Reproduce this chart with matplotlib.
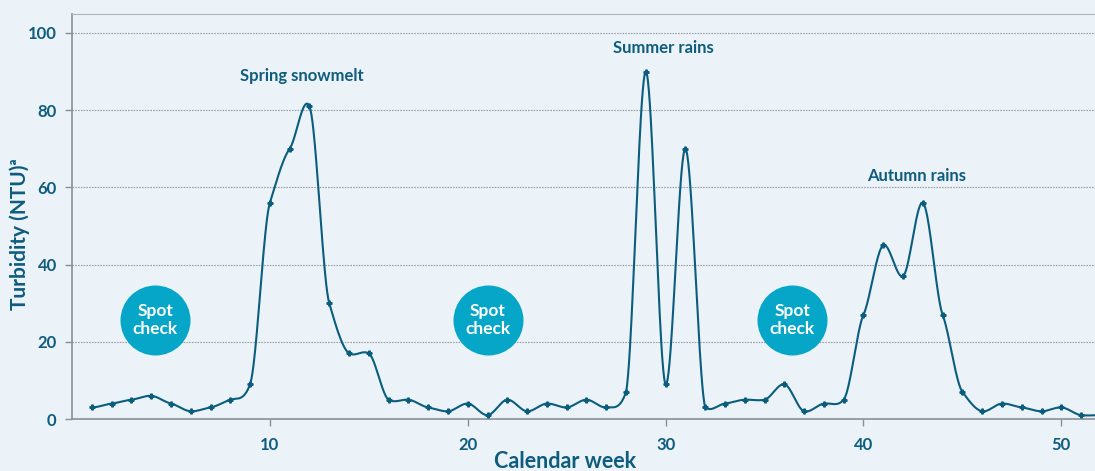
import numpy as np
import matplotlib
matplotlib.use("Agg")
import matplotlib.pyplot as plt

weeks = list(range(1, 53))
turbidity = [3, 4, 5, 6, 4, 2, 3, 5, 9, 56,
             70, 81, 30, 17, 17, 5, 5, 3, 2, 4,
             1, 5, 2, 4, 3, 5, 3, 7, 90, 9,
             70, 3, 4, 5, 5, 9, 2, 4, 5, 27,
             45, 37, 56, 27, 7, 2, 4, 3, 2, 3,
             1, 1]
season_labels = ["Spring snowmelt", "Summer rains", "Autumn rains"]
season_x = [11.6, 29.9, 42.7]
season_y = [88.9, 96.1, 63.0]
spot_x = [4.2, 21.0, 36.4]
spot_y = [25.6, 25.6, 25.6]
y_ticks = [0, 20, 40, 60, 80, 100]
x_ticks = [10, 20, 30, 40, 50]

LINE = "#0b5d7e"
TEXT = "#0e5c7e"
CIRCLE = "#05a6c7"
BG = "#ecf3f8"

plt.rcParams['font.family'] = ['Lato', 'DejaVu Sans']


def smooth_curve(x, y, k=0.55, c=3.0, n=40):
    x = np.asarray(x, float)
    y = np.asarray(y, float)
    N = len(x)
    m = np.zeros(N)
    for i in range(N):
        if 0 < i < N - 1:
            m[i] = k * (y[i + 1] - y[i - 1]) / 2
    xs, ys = [], []
    for i in range(N - 1):
        d = y[i + 1] - y[i]
        out = []
        for mm in (m[i], m[i + 1]):
            if d == 0 or np.sign(mm) != np.sign(d):
                lim = abs(d) + c
            else:
                lim = 3 * abs(d) + c
            out.append(np.clip(mm, -lim, lim))
        m0, m1 = out
        t = np.linspace(0, 1, n, endpoint=False)
        h00 = 2 * t**3 - 3 * t**2 + 1
        h10 = t**3 - 2 * t**2 + t
        h01 = -2 * t**3 + 3 * t**2
        h11 = t**3 - t**2
        xs.append(x[i] + t * (x[i + 1] - x[i]))
        ys.append(h00 * y[i] + h10 * m0 + h01 * y[i + 1] + h11 * m1)
    xs.append([x[-1]])
    ys.append([y[-1]])
    return np.concatenate(xs), np.concatenate(ys)


fig = plt.figure(figsize=(10.95, 4.71), dpi=100)
fig.patch.set_facecolor(BG)
ax = fig.add_axes([72 / 1095, 1 - 419 / 471, 1 - 72 / 1095, (419 - 14) / 471])
ax.set_facecolor(BG)

ax.set_xlim(0, 51.7)
ax.set_ylim(0, 104.9)

for yv in y_ticks[1:]:
    ax.axhline(yv, color="#9aa0a4", lw=0.8, ls=(0, (1.5, 1)), zorder=1)

sx, sy = smooth_curve(weeks, turbidity)
ax.plot(sx, sy, color=LINE, lw=1.5, zorder=3)
ax.plot(weeks, turbidity, ls="none", marker="P", ms=3.5, color=LINE, zorder=4)

ax.scatter(spot_x, spot_y, s=2540, color=CIRCLE, zorder=5, linewidths=0)
for xv, yv in zip(spot_x, spot_y):
    ax.text(xv, yv, "Spot\ncheck", ha="center", va="center", color="white",
            fontsize=12.5, fontweight="bold", linespacing=1.12, zorder=6)

for lab, xv, yv in zip(season_labels, season_x, season_y):
    ax.text(xv, yv, lab, ha="center", va="center", color=TEXT,
            fontsize=12, fontweight="bold", zorder=6)

ax.set_yticks(y_ticks)
ax.set_xticks(x_ticks)
ax.tick_params(axis="both", colors="#8a9095", labelcolor=TEXT, labelsize=12,
               length=5, width=1)
for lbl in ax.get_xticklabels() + ax.get_yticklabels():
    lbl.set_fontweight("bold")
ax.tick_params(axis="x", pad=8)
ax.tick_params(axis="y", pad=6)

for side in ["left", "bottom", "top"]:
    ax.spines[side].set_color("#8a9095")
    ax.spines[side].set_linewidth(1.2)
ax.spines["top"].set_linewidth(0.8)
ax.spines["top"].set_color("#b0b5b8")
ax.spines["right"].set_visible(False)

fig.text(20 / 1095, 1 - 234 / 471, "Turbidity (NTU)ᵃ", rotation=90,
         ha="center", va="center", color=TEXT, fontsize=15, fontweight="bold")
fig.text(565 / 1095, 1 - 461 / 471, "Calendar week", ha="center", va="center",
         color=TEXT, fontsize=15.5, fontweight="bold")

fig.savefig("out.png", dpi=100, facecolor=BG)
